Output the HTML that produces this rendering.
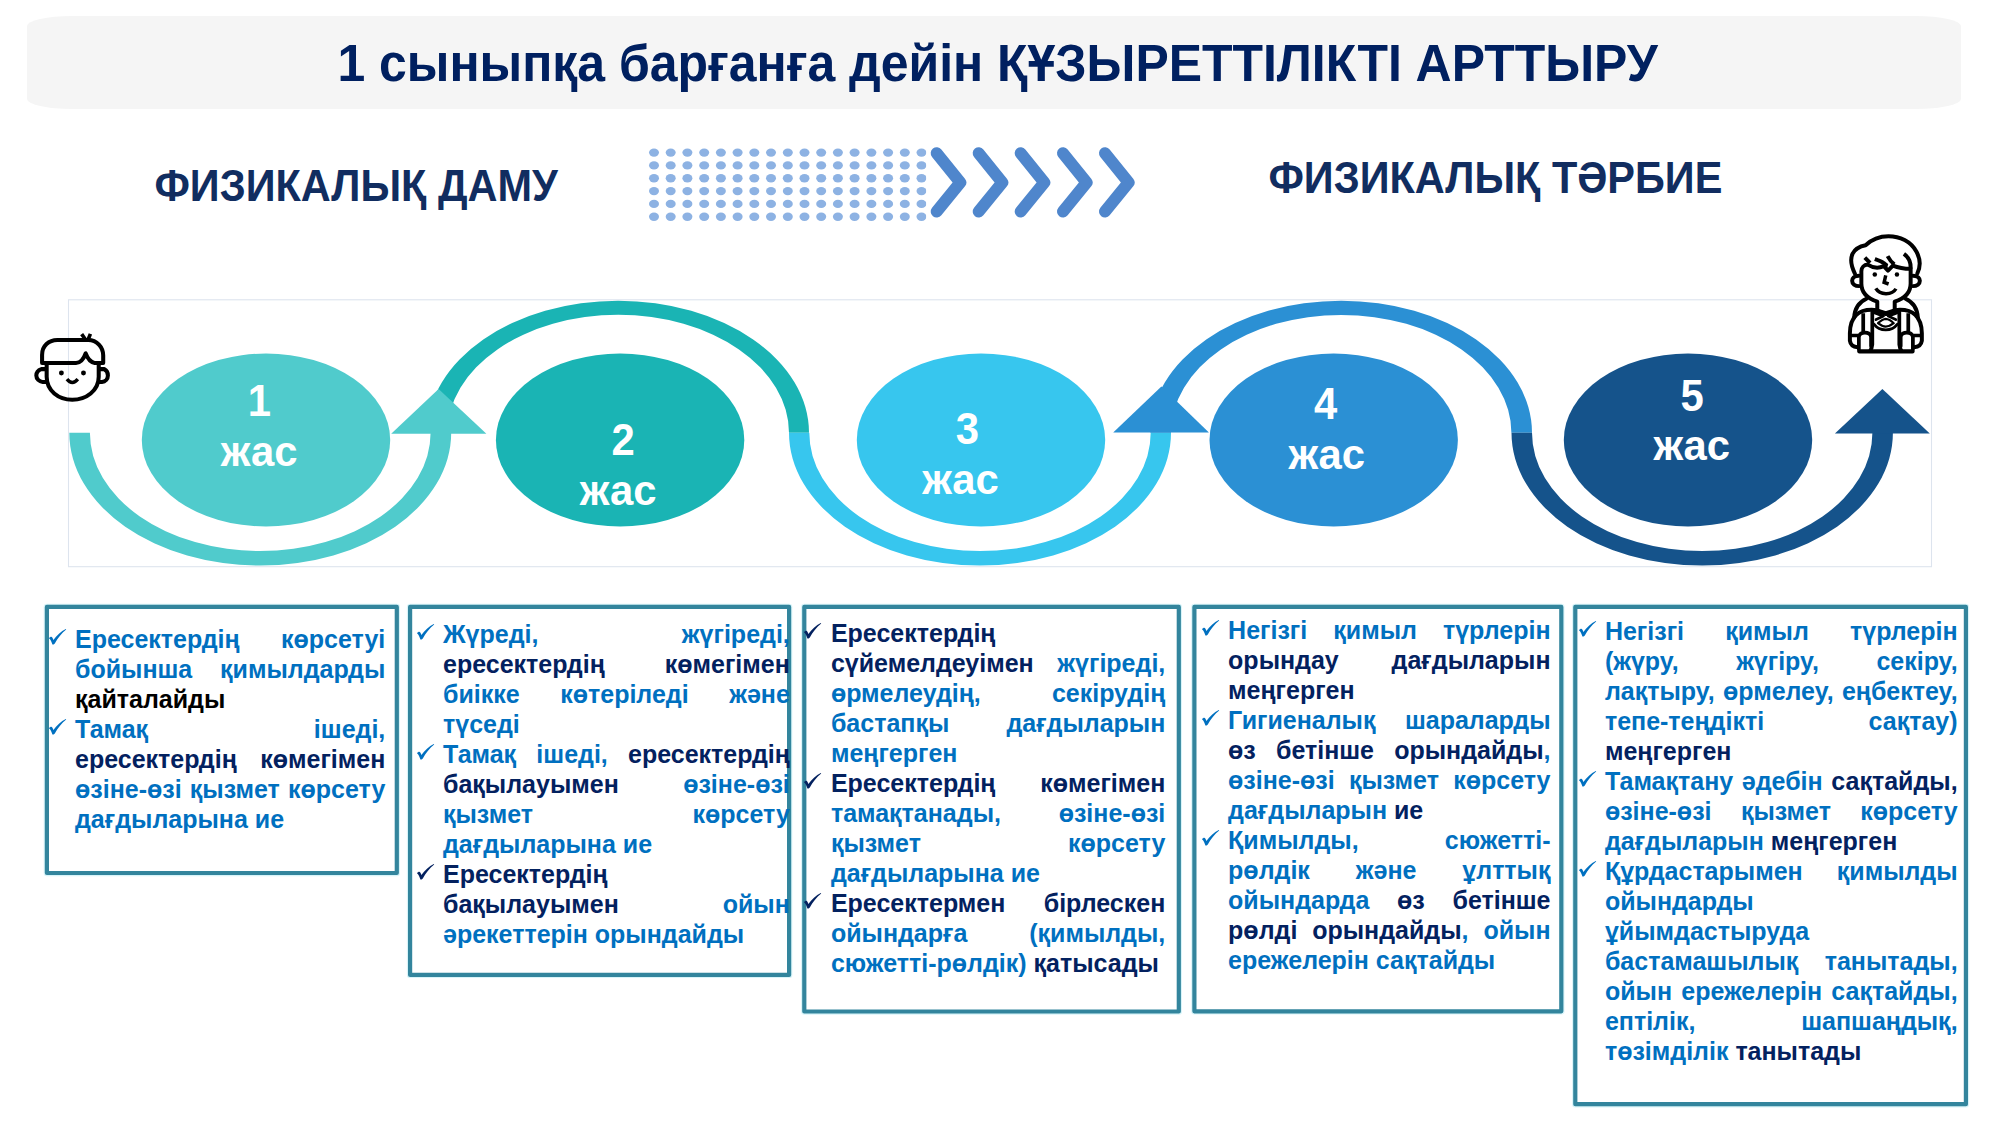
<!DOCTYPE html>
<html><head><meta charset="utf-8"><title>slide</title>
<style>
html,body{margin:0;padding:0;background:#fff;}
body{width:2000px;height:1125px;position:relative;overflow:hidden;font-family:"Liberation Sans",sans-serif;font-weight:bold;}
.banner{position:absolute;left:27px;top:16px;width:1934px;height:93px;background:#F5F5F5;border-radius:45px / 10px;}
.title{position:absolute;left:-2.4px;top:34.0px;width:2000px;text-align:center;font-size:49.92px;line-height:60px;color:#002060;white-space:nowrap;transform:scaleY(1.035);transform-origin:50% 46px;}
.h2{position:absolute;font-size:41.5px;line-height:50px;color:#112D60;white-space:nowrap;transform:scaleY(1.07);transform-origin:0 39px;}
.bx{position:absolute;box-sizing:border-box;border:4.2px solid #33859D;background:#fff;border-radius:1.5px;box-shadow:0 0 2px rgba(120,215,235,.55);}
.ln{position:absolute;height:30px;line-height:30px;font-size:25px;white-space:nowrap;}
.ck{position:absolute;}
.el.dg{transform:scaleY(1.04);transform-origin:0 40px;}
.el{position:absolute;height:50px;line-height:50px;font-size:41.8px;color:#fff;white-space:nowrap;}
svg.dg{position:absolute;left:0;top:0;}
</style></head><body>
<div class="banner"></div>
<div class="title">1 сыныпқа барғанға дейін ҚҰЗЫРЕТТІЛІКТІ АРТТЫРУ</div>
<div class="h2" style="left:154.4px;top:162.4px">ФИЗИКАЛЫҚ ДАМУ</div>
<div class="h2" style="left:1268.4px;top:154.4px">ФИЗИКАЛЫҚ ТӘРБИЕ</div>
<svg class="dg" width="2000" height="1125" viewBox="0 0 2000 1125">
<rect x="68.5" y="299.8" width="1863" height="266.9" fill="none" stroke="#DDE4EE" stroke-width="1.1"/>
<path d="M427.4 432.8 A190.8 132.0 0 0 1 809.0 432.8 L789.0 432.8 A170.8 118.0 0 0 0 447.4 432.8 Z" fill="#1AB4B4"/>
<path d="M1150.4 432.8 A190.8 132.0 0 0 1 1532.0 432.8 L1511.4 432.8 A170.2 118.0 0 0 0 1171.0 432.8 Z" fill="#2B90D4"/>
<path d="M69.3 432.8 A190.9 132.7 0 0 0 451.2 432.8 L430.6 432.8 A170.3 118.3 0 0 1 89.9 432.8 Z" fill="#50CBCC"/>
<path d="M789.0 432.8 A191.0 132.7 0 0 0 1171.0 432.8 L1150.7 432.8 A170.7 118.3 0 0 1 809.3 432.8 Z" fill="#37C6EE"/>
<path d="M1511.5 432.8 A190.7 132.7 0 0 0 1892.9 432.8 L1872.4 432.8 A170.2 118.3 0 0 1 1532.0 432.8 Z" fill="#15538B"/>
<polygon points="391.2,433.7 486.4,433.7 438.6,389.1" fill="#50CBCC"/>
<polygon points="1113.2,432.6 1208.9,432.6 1161.4,386.6" fill="#2B90D4"/>
<polygon points="1834.9,433.6 1929.8,433.6 1882.4,388.9" fill="#15538B"/>
<ellipse cx="266" cy="440" rx="124.2" ry="86.5" fill="#50CBCC"/>
<ellipse cx="620.1" cy="440" rx="124.2" ry="86.5" fill="#1AB4B4"/>
<ellipse cx="981" cy="440" rx="124.2" ry="86.5" fill="#37C6EE"/>
<ellipse cx="1333.7" cy="440" rx="124.2" ry="86.5" fill="#2B90D4"/>
<ellipse cx="1688" cy="440" rx="124.2" ry="86.5" fill="#15538B"/>
<clipPath id="dc"><rect x="640" y="140" width="286.2" height="90"/></clipPath><g fill="#8DB2E3" clip-path="url(#dc)"><ellipse cx="654.0" cy="152.6" rx="5" ry="4.2"/><ellipse cx="670.7" cy="152.6" rx="5" ry="4.2"/><ellipse cx="687.4" cy="152.6" rx="5" ry="4.2"/><ellipse cx="704.2" cy="152.6" rx="5" ry="4.2"/><ellipse cx="720.9" cy="152.6" rx="5" ry="4.2"/><ellipse cx="737.6" cy="152.6" rx="5" ry="4.2"/><ellipse cx="754.3" cy="152.6" rx="5" ry="4.2"/><ellipse cx="771.0" cy="152.6" rx="5" ry="4.2"/><ellipse cx="787.8" cy="152.6" rx="5" ry="4.2"/><ellipse cx="804.5" cy="152.6" rx="5" ry="4.2"/><ellipse cx="821.2" cy="152.6" rx="5" ry="4.2"/><ellipse cx="837.9" cy="152.6" rx="5" ry="4.2"/><ellipse cx="854.6" cy="152.6" rx="5" ry="4.2"/><ellipse cx="871.4" cy="152.6" rx="5" ry="4.2"/><ellipse cx="888.1" cy="152.6" rx="5" ry="4.2"/><ellipse cx="904.8" cy="152.6" rx="5" ry="4.2"/><ellipse cx="921.5" cy="152.6" rx="5" ry="4.2"/><ellipse cx="654.0" cy="165.4" rx="5" ry="4.2"/><ellipse cx="670.7" cy="165.4" rx="5" ry="4.2"/><ellipse cx="687.4" cy="165.4" rx="5" ry="4.2"/><ellipse cx="704.2" cy="165.4" rx="5" ry="4.2"/><ellipse cx="720.9" cy="165.4" rx="5" ry="4.2"/><ellipse cx="737.6" cy="165.4" rx="5" ry="4.2"/><ellipse cx="754.3" cy="165.4" rx="5" ry="4.2"/><ellipse cx="771.0" cy="165.4" rx="5" ry="4.2"/><ellipse cx="787.8" cy="165.4" rx="5" ry="4.2"/><ellipse cx="804.5" cy="165.4" rx="5" ry="4.2"/><ellipse cx="821.2" cy="165.4" rx="5" ry="4.2"/><ellipse cx="837.9" cy="165.4" rx="5" ry="4.2"/><ellipse cx="854.6" cy="165.4" rx="5" ry="4.2"/><ellipse cx="871.4" cy="165.4" rx="5" ry="4.2"/><ellipse cx="888.1" cy="165.4" rx="5" ry="4.2"/><ellipse cx="904.8" cy="165.4" rx="5" ry="4.2"/><ellipse cx="921.5" cy="165.4" rx="5" ry="4.2"/><ellipse cx="654.0" cy="178.2" rx="5" ry="4.2"/><ellipse cx="670.7" cy="178.2" rx="5" ry="4.2"/><ellipse cx="687.4" cy="178.2" rx="5" ry="4.2"/><ellipse cx="704.2" cy="178.2" rx="5" ry="4.2"/><ellipse cx="720.9" cy="178.2" rx="5" ry="4.2"/><ellipse cx="737.6" cy="178.2" rx="5" ry="4.2"/><ellipse cx="754.3" cy="178.2" rx="5" ry="4.2"/><ellipse cx="771.0" cy="178.2" rx="5" ry="4.2"/><ellipse cx="787.8" cy="178.2" rx="5" ry="4.2"/><ellipse cx="804.5" cy="178.2" rx="5" ry="4.2"/><ellipse cx="821.2" cy="178.2" rx="5" ry="4.2"/><ellipse cx="837.9" cy="178.2" rx="5" ry="4.2"/><ellipse cx="854.6" cy="178.2" rx="5" ry="4.2"/><ellipse cx="871.4" cy="178.2" rx="5" ry="4.2"/><ellipse cx="888.1" cy="178.2" rx="5" ry="4.2"/><ellipse cx="904.8" cy="178.2" rx="5" ry="4.2"/><ellipse cx="921.5" cy="178.2" rx="5" ry="4.2"/><ellipse cx="654.0" cy="191.1" rx="5" ry="4.2"/><ellipse cx="670.7" cy="191.1" rx="5" ry="4.2"/><ellipse cx="687.4" cy="191.1" rx="5" ry="4.2"/><ellipse cx="704.2" cy="191.1" rx="5" ry="4.2"/><ellipse cx="720.9" cy="191.1" rx="5" ry="4.2"/><ellipse cx="737.6" cy="191.1" rx="5" ry="4.2"/><ellipse cx="754.3" cy="191.1" rx="5" ry="4.2"/><ellipse cx="771.0" cy="191.1" rx="5" ry="4.2"/><ellipse cx="787.8" cy="191.1" rx="5" ry="4.2"/><ellipse cx="804.5" cy="191.1" rx="5" ry="4.2"/><ellipse cx="821.2" cy="191.1" rx="5" ry="4.2"/><ellipse cx="837.9" cy="191.1" rx="5" ry="4.2"/><ellipse cx="854.6" cy="191.1" rx="5" ry="4.2"/><ellipse cx="871.4" cy="191.1" rx="5" ry="4.2"/><ellipse cx="888.1" cy="191.1" rx="5" ry="4.2"/><ellipse cx="904.8" cy="191.1" rx="5" ry="4.2"/><ellipse cx="921.5" cy="191.1" rx="5" ry="4.2"/><ellipse cx="654.0" cy="203.9" rx="5" ry="4.2"/><ellipse cx="670.7" cy="203.9" rx="5" ry="4.2"/><ellipse cx="687.4" cy="203.9" rx="5" ry="4.2"/><ellipse cx="704.2" cy="203.9" rx="5" ry="4.2"/><ellipse cx="720.9" cy="203.9" rx="5" ry="4.2"/><ellipse cx="737.6" cy="203.9" rx="5" ry="4.2"/><ellipse cx="754.3" cy="203.9" rx="5" ry="4.2"/><ellipse cx="771.0" cy="203.9" rx="5" ry="4.2"/><ellipse cx="787.8" cy="203.9" rx="5" ry="4.2"/><ellipse cx="804.5" cy="203.9" rx="5" ry="4.2"/><ellipse cx="821.2" cy="203.9" rx="5" ry="4.2"/><ellipse cx="837.9" cy="203.9" rx="5" ry="4.2"/><ellipse cx="854.6" cy="203.9" rx="5" ry="4.2"/><ellipse cx="871.4" cy="203.9" rx="5" ry="4.2"/><ellipse cx="888.1" cy="203.9" rx="5" ry="4.2"/><ellipse cx="904.8" cy="203.9" rx="5" ry="4.2"/><ellipse cx="921.5" cy="203.9" rx="5" ry="4.2"/><ellipse cx="654.0" cy="216.7" rx="5" ry="4.2"/><ellipse cx="670.7" cy="216.7" rx="5" ry="4.2"/><ellipse cx="687.4" cy="216.7" rx="5" ry="4.2"/><ellipse cx="704.2" cy="216.7" rx="5" ry="4.2"/><ellipse cx="720.9" cy="216.7" rx="5" ry="4.2"/><ellipse cx="737.6" cy="216.7" rx="5" ry="4.2"/><ellipse cx="754.3" cy="216.7" rx="5" ry="4.2"/><ellipse cx="771.0" cy="216.7" rx="5" ry="4.2"/><ellipse cx="787.8" cy="216.7" rx="5" ry="4.2"/><ellipse cx="804.5" cy="216.7" rx="5" ry="4.2"/><ellipse cx="821.2" cy="216.7" rx="5" ry="4.2"/><ellipse cx="837.9" cy="216.7" rx="5" ry="4.2"/><ellipse cx="854.6" cy="216.7" rx="5" ry="4.2"/><ellipse cx="871.4" cy="216.7" rx="5" ry="4.2"/><ellipse cx="888.1" cy="216.7" rx="5" ry="4.2"/><ellipse cx="904.8" cy="216.7" rx="5" ry="4.2"/><ellipse cx="921.5" cy="216.7" rx="5" ry="4.2"/></g>
<g fill="none" stroke="#4F86CC" stroke-width="12" stroke-linecap="round" stroke-linejoin="round"><path d="M936.7 153.2 L960.3 182.4 L936.7 211.6"/><path d="M978.7 153.2 L1002.3 182.4 L978.7 211.6"/><path d="M1020.7 153.2 L1044.3 182.4 L1020.7 211.6"/><path d="M1063.0 153.2 L1086.6 182.4 L1063.0 211.6"/><path d="M1105.0 153.2 L1128.6 182.4 L1105.0 211.6"/></g>
<g transform="translate(20,300) scale(0.106667)" fill="none" stroke="#000" stroke-width="38" stroke-linecap="round" stroke-linejoin="round">
<path d="M207 590 L207 515 C207 430 270 375 350 375 L640 375 C720 375 780 440 780 520 L780 590 L700 590 C655 585 632 545 615 500 C598 548 575 590 525 590 Z"/>
<path d="M578 320 L612 368 M660 318 L640 368" stroke-width="34" stroke-linecap="butt"/>
<path d="M250 600 L250 720 C250 850 360 935 490 935 C620 935 738 850 738 720 L738 600"/>
<path d="M238 648 L200 648 C165 660 153 690 153 708 C153 740 180 766 212 768 L245 768"/>
<path d="M752 648 L790 648 C818 662 824 690 824 708 C824 740 800 766 768 768 L745 768"/>
<path d="M440 742 Q490 805 542 742" stroke-width="32" stroke-linecap="butt"/>
<circle cx="388" cy="685" r="23" fill="#000" stroke="none"/>
<circle cx="595" cy="685" r="23" fill="#000" stroke="none"/>
</g>
<g transform="translate(1825,225) scale(0.124481)" fill="none" stroke="#000" stroke-width="32" stroke-linecap="round" stroke-linejoin="round">
<path d="M240 390 C215 340 198 280 222 230 C240 195 280 172 326 163 C370 120 440 90 510 90 C600 90 690 130 735 215 C770 280 768 335 742 388"/>
<path d="M292 470 L292 372 C292 340 315 320 343 318 C385 345 430 350 472 330 L506 366 L545 326 C585 342 620 352 688 352 L688 470 C688 540 640 590 560 615 L560 690 L490 715 L420 690 L420 615 C340 590 292 540 292 470 Z"/>
<path d="M320 262 L362 304 M400 274 C430 285 455 294 472 306 C484 316 496 326 504 328 M503 250 C515 272 527 295 557 317 M634 232 C676 262 690 305 688 350" stroke-linecap="butt"/>
<path d="M272 407 C232 407 218 430 218 448 C218 472 240 491 275 491"/>
<path d="M706 407 C748 407 762 430 762 448 C762 472 740 491 705 491"/>
<path d="M488 404 L475 461 L511 474" stroke-width="28" stroke-linecap="butt" stroke-linejoin="miter"/>
<path d="M408 510 C440 565 540 565 570 512" stroke-width="28" stroke-linecap="butt"/>
<circle cx="400" cy="398" r="18" fill="#000" stroke="none"/>
<circle cx="578" cy="398" r="18" fill="#000" stroke="none"/>
<path d="M333 592 C275 618 238 670 234 745"/>
<path d="M647 592 C705 618 742 670 746 745"/>
<path d="M417 684 C340 676 285 690 252 722 C212 760 200 815 200 870 L200 930 C205 965 232 980 262 982"/>
<path d="M560 684 C637 676 692 690 725 722 C765 760 778 815 778 870 L778 930 C773 965 746 980 716 982"/>
<path d="M417 684 L488 706 L560 684" stroke-width="26"/>
<path d="M276 1016 L703 1016" stroke-width="34"/>
<path d="M307 708 L307 858 M669 708 L669 858" stroke-width="30" stroke-linecap="butt"/>
<path d="M380 700 L380 960 C378 985 372 1000 362 1010 M597 700 L597 960 C599 985 605 1000 615 1010" stroke-width="30"/>
<path d="M272 1000 L272 900 C276 852 366 852 370 900 L370 975" stroke-width="30"/>
<path d="M706 1000 L706 900 C702 852 612 852 608 900 L608 975" stroke-width="30"/>
<path d="M203 888 L266 888 M712 888 L776 888" stroke-width="28" stroke-linecap="butt"/>
<path d="M400 706 L470 732 L410 760 M578 706 L508 732 L568 760" stroke-width="22"/>
<path d="M426 789 C455 764 475 756 488 755 C501 756 525 764 552 789 C525 810 505 816 488 816 C470 816 452 810 426 789 Z" stroke-width="18"/>
<path d="M393 796 C420 832 455 842 488 842 C520 842 555 832 582 796" stroke-width="22"/>
</g>
<rect x="46.90" y="606.90" width="349.90" height="266.10" stroke-linejoin="round" fill="none" stroke="#A8E6F2" stroke-opacity=".45" stroke-width="6.4"/>
<rect x="46.90" y="606.90" width="349.90" height="266.10" stroke-linejoin="round" fill="#fff" stroke="#33859D" stroke-width="4.2"/>
<rect x="410.10" y="606.90" width="379.00" height="368.00" stroke-linejoin="round" fill="none" stroke="#A8E6F2" stroke-opacity=".45" stroke-width="6.4"/>
<rect x="410.10" y="606.90" width="379.00" height="368.00" stroke-linejoin="round" fill="#fff" stroke="#33859D" stroke-width="4.2"/>
<rect x="804.30" y="606.90" width="374.50" height="404.60" stroke-linejoin="round" fill="none" stroke="#A8E6F2" stroke-opacity=".45" stroke-width="6.4"/>
<rect x="804.30" y="606.90" width="374.50" height="404.60" stroke-linejoin="round" fill="#fff" stroke="#33859D" stroke-width="4.2"/>
<rect x="1194.40" y="606.90" width="366.90" height="404.40" stroke-linejoin="round" fill="none" stroke="#A8E6F2" stroke-opacity=".45" stroke-width="6.4"/>
<rect x="1194.40" y="606.90" width="366.90" height="404.40" stroke-linejoin="round" fill="#fff" stroke="#33859D" stroke-width="4.2"/>
<rect x="1575.30" y="606.90" width="390.60" height="497.30" stroke-linejoin="round" fill="none" stroke="#A8E6F2" stroke-opacity=".45" stroke-width="6.4"/>
<rect x="1575.30" y="606.90" width="390.60" height="497.30" stroke-linejoin="round" fill="#fff" stroke="#33859D" stroke-width="4.2"/>
</svg>
<div class="el dg" id="lab0" style="left:247.72px;top:376.90px">1</div>
<div class="el" id="lab1" style="left:220.80px;top:426.90px">жас</div>
<div class="el dg" id="lab2" style="left:611.38px;top:416.28px">2</div>
<div class="el" id="lab3" style="left:579.80px;top:465.90px">жас</div>
<div class="el dg" id="lab4" style="left:955.66px;top:405.02px">3</div>
<div class="el" id="lab5" style="left:922.18px;top:455.10px">жас</div>
<div class="el dg" id="lab6" style="left:1313.92px;top:379.52px">4</div>
<div class="el" id="lab7" style="left:1288.44px;top:430.10px">жас</div>
<div class="el dg" id="lab8" style="left:1680.52px;top:372.28px">5</div>
<div class="el" id="lab9" style="left:1653.44px;top:421.14px">жас</div>
<div class="ln" style="left:75.0px;top:623.5px;width:310.3px;word-spacing:34.550px"><span style="color:#0070C0">Ересектердің көрсетуі</span></div>
<svg class="ck" style="left:49.2px;top:628.9px" width="18" height="17" viewBox="0 0 18 17"><path d="M0 9.2 C0.8 8.4 1.4 7.8 2.2 7.8 C3.2 7.8 3.8 9.4 4.4 11 C7.6 6.4 12 2.4 16.8 0 L17.2 0.5 C12.4 4.4 8.8 9 5.8 14.4 C5 15.4 4.4 15.6 3.4 15.6 C2.8 13.4 1.8 10.6 0 9.2 Z" fill="#0070C0"/></svg>
<div class="ln" style="left:75.0px;top:653.5px;width:310.3px;word-spacing:20.831px"><span style="color:#0070C0">бойынша қимылдарды</span></div>
<div class="ln" style="left:75.0px;top:683.5px;width:310.3px"><span style="color:#000000">қайталайды</span></div>
<div class="ln" style="left:75.0px;top:713.5px;width:310.3px;word-spacing:158.769px"><span style="color:#0070C0">Тамақ ішеді,</span></div>
<svg class="ck" style="left:49.2px;top:718.9px" width="18" height="17" viewBox="0 0 18 17"><path d="M0 9.2 C0.8 8.4 1.4 7.8 2.2 7.8 C3.2 7.8 3.8 9.4 4.4 11 C7.6 6.4 12 2.4 16.8 0 L17.2 0.5 C12.4 4.4 8.8 9 5.8 14.4 C5 15.4 4.4 15.6 3.4 15.6 C2.8 13.4 1.8 10.6 0 9.2 Z" fill="#0070C0"/></svg>
<div class="ln" style="left:75.0px;top:743.5px;width:310.3px;word-spacing:16.534px"><span style="color:#03215F">ересектердің көмегімен</span></div>
<div class="ln" style="left:75.0px;top:773.5px;width:310.3px;word-spacing:1.252px"><span style="color:#0070C0">өзіне-өзі қызмет көрсету</span></div>
<div class="ln" style="left:75.0px;top:803.5px;width:310.3px"><span style="color:#0070C0">дағдыларына ие</span></div>
<div class="ln" style="left:443.0px;top:618.6px;width:346.8px;word-spacing:136.487px"><span style="color:#0070C0">Жүреді, жүгіреді,</span></div>
<svg class="ck" style="left:417.2px;top:624.0px" width="18" height="17" viewBox="0 0 18 17"><path d="M0 9.2 C0.8 8.4 1.4 7.8 2.2 7.8 C3.2 7.8 3.8 9.4 4.4 11 C7.6 6.4 12 2.4 16.8 0 L17.2 0.5 C12.4 4.4 8.8 9 5.8 14.4 C5 15.4 4.4 15.6 3.4 15.6 C2.8 13.4 1.8 10.6 0 9.2 Z" fill="#0070C0"/></svg>
<div class="ln" style="left:443.0px;top:648.6px;width:346.8px;word-spacing:53.034px"><span style="color:#03215F">ересектердің көмегімен</span></div>
<div class="ln" style="left:443.0px;top:678.6px;width:346.8px;word-spacing:33.580px"><span style="color:#0070C0">биікке көтеріледі және</span></div>
<div class="ln" style="left:443.0px;top:708.6px;width:346.8px"><span style="color:#0070C0">түседі</span></div>
<div class="ln" style="left:443.0px;top:738.6px;width:346.8px;word-spacing:13.267px"><span style="color:#0070C0">Тамақ ішеді, </span><span style="color:#03215F">ересектердің</span></div>
<svg class="ck" style="left:417.2px;top:744.0px" width="18" height="17" viewBox="0 0 18 17"><path d="M0 9.2 C0.8 8.4 1.4 7.8 2.2 7.8 C3.2 7.8 3.8 9.4 4.4 11 C7.6 6.4 12 2.4 16.8 0 L17.2 0.5 C12.4 4.4 8.8 9 5.8 14.4 C5 15.4 4.4 15.6 3.4 15.6 C2.8 13.4 1.8 10.6 0 9.2 Z" fill="#0070C0"/></svg>
<div class="ln" style="left:443.0px;top:768.6px;width:346.8px;word-spacing:57.472px"><span style="color:#03215F">бақылауымен </span><span style="color:#0070C0">өзіне-өзі</span></div>
<div class="ln" style="left:443.0px;top:798.6px;width:346.8px;word-spacing:152.566px"><span style="color:#0070C0">қызмет көрсету</span></div>
<div class="ln" style="left:443.0px;top:828.6px;width:346.8px"><span style="color:#0070C0">дағдыларына ие</span></div>
<div class="ln" style="left:443.0px;top:858.6px;width:346.8px"><span style="color:#03215F">Ересектердің</span></div>
<svg class="ck" style="left:417.2px;top:864.0px" width="18" height="17" viewBox="0 0 18 17"><path d="M0 9.2 C0.8 8.4 1.4 7.8 2.2 7.8 C3.2 7.8 3.8 9.4 4.4 11 C7.6 6.4 12 2.4 16.8 0 L17.2 0.5 C12.4 4.4 8.8 9 5.8 14.4 C5 15.4 4.4 15.6 3.4 15.6 C2.8 13.4 1.8 10.6 0 9.2 Z" fill="#03215F"/></svg>
<div class="ln" style="left:443.0px;top:888.6px;width:346.8px;word-spacing:97.003px"><span style="color:#03215F">бақылауымен </span><span style="color:#0070C0">ойын</span></div>
<div class="ln" style="left:443.0px;top:918.6px;width:346.8px"><span style="color:#0070C0">әрекеттерін орындайды</span></div>
<div class="ln" style="left:830.9px;top:617.8px;width:334.4px"><span style="color:#03215F">Ересектердің</span></div>
<svg class="ck" style="left:804.0px;top:623.2px" width="18" height="17" viewBox="0 0 18 17"><path d="M0 9.2 C0.8 8.4 1.4 7.8 2.2 7.8 C3.2 7.8 3.8 9.4 4.4 11 C7.6 6.4 12 2.4 16.8 0 L17.2 0.5 C12.4 4.4 8.8 9 5.8 14.4 C5 15.4 4.4 15.6 3.4 15.6 C2.8 13.4 1.8 10.6 0 9.2 Z" fill="#03215F"/></svg>
<div class="ln" style="left:830.9px;top:647.8px;width:334.4px;word-spacing:16.697px"><span style="color:#03215F">сүйемелдеуімен </span><span style="color:#0070C0">жүгіреді,</span></div>
<div class="ln" style="left:830.9px;top:677.8px;width:334.4px;word-spacing:64.166px"><span style="color:#0070C0">өрмелеудің, секірудің</span></div>
<div class="ln" style="left:830.9px;top:707.8px;width:334.4px;word-spacing:50.181px"><span style="color:#0070C0">бастапқы дағдыларын</span></div>
<div class="ln" style="left:830.9px;top:737.8px;width:334.4px"><span style="color:#0070C0">меңгерген</span></div>
<div class="ln" style="left:830.9px;top:767.8px;width:334.4px;word-spacing:37.853px"><span style="color:#03215F">Ересектердің көмегімен</span></div>
<svg class="ck" style="left:804.0px;top:773.2px" width="18" height="17" viewBox="0 0 18 17"><path d="M0 9.2 C0.8 8.4 1.4 7.8 2.2 7.8 C3.2 7.8 3.8 9.4 4.4 11 C7.6 6.4 12 2.4 16.8 0 L17.2 0.5 C12.4 4.4 8.8 9 5.8 14.4 C5 15.4 4.4 15.6 3.4 15.6 C2.8 13.4 1.8 10.6 0 9.2 Z" fill="#03215F"/></svg>
<div class="ln" style="left:830.9px;top:797.8px;width:334.4px;word-spacing:50.791px"><span style="color:#0070C0">тамақтанады, өзіне-өзі</span></div>
<div class="ln" style="left:830.9px;top:827.8px;width:334.4px;word-spacing:140.166px"><span style="color:#0070C0">қызмет көрсету</span></div>
<div class="ln" style="left:830.9px;top:857.8px;width:334.4px"><span style="color:#0070C0">дағдыларына ие</span></div>
<div class="ln" style="left:830.9px;top:887.8px;width:334.4px;word-spacing:31.431px"><span style="color:#03215F">Ересектермен бірлескен</span></div>
<svg class="ck" style="left:804.0px;top:893.2px" width="18" height="17" viewBox="0 0 18 17"><path d="M0 9.2 C0.8 8.4 1.4 7.8 2.2 7.8 C3.2 7.8 3.8 9.4 4.4 11 C7.6 6.4 12 2.4 16.8 0 L17.2 0.5 C12.4 4.4 8.8 9 5.8 14.4 C5 15.4 4.4 15.6 3.4 15.6 C2.8 13.4 1.8 10.6 0 9.2 Z" fill="#03215F"/></svg>
<div class="ln" style="left:830.9px;top:917.8px;width:334.4px;word-spacing:54.900px"><span style="color:#0070C0">ойындарға (қимылды,</span></div>
<div class="ln" style="left:830.9px;top:947.8px;width:334.4px"><span style="color:#0070C0">сюжетті-рөлдік) </span><span style="color:#03215F">қатысады</span></div>
<div class="ln" style="left:1228.1px;top:614.6px;width:322.4px;word-spacing:19.114px"><span style="color:#0070C0">Негізгі қимыл түрлерін</span></div>
<svg class="ck" style="left:1202.3px;top:620.0px" width="18" height="17" viewBox="0 0 18 17"><path d="M0 9.2 C0.8 8.4 1.4 7.8 2.2 7.8 C3.2 7.8 3.8 9.4 4.4 11 C7.6 6.4 12 2.4 16.8 0 L17.2 0.5 C12.4 4.4 8.8 9 5.8 14.4 C5 15.4 4.4 15.6 3.4 15.6 C2.8 13.4 1.8 10.6 0 9.2 Z" fill="#0070C0"/></svg>
<div class="ln" style="left:1228.1px;top:644.6px;width:322.4px;word-spacing:45.869px"><span style="color:#03215F">орындау дағдыларын</span></div>
<div class="ln" style="left:1228.1px;top:674.6px;width:322.4px"><span style="color:#03215F">меңгерген</span></div>
<div class="ln" style="left:1228.1px;top:704.6px;width:322.4px;word-spacing:22.525px"><span style="color:#0070C0">Гигиеналық шараларды</span></div>
<svg class="ck" style="left:1202.3px;top:710.0px" width="18" height="17" viewBox="0 0 18 17"><path d="M0 9.2 C0.8 8.4 1.4 7.8 2.2 7.8 C3.2 7.8 3.8 9.4 4.4 11 C7.6 6.4 12 2.4 16.8 0 L17.2 0.5 C12.4 4.4 8.8 9 5.8 14.4 C5 15.4 4.4 15.6 3.4 15.6 C2.8 13.4 1.8 10.6 0 9.2 Z" fill="#0070C0"/></svg>
<div class="ln" style="left:1228.1px;top:734.6px;width:322.4px;word-spacing:13.223px"><span style="color:#03215F">өз бетінше орындайды</span><span style="color:#0070C0">,</span></div>
<div class="ln" style="left:1228.1px;top:764.6px;width:322.4px;word-spacing:7.302px"><span style="color:#0070C0">өзіне-өзі қызмет көрсету</span></div>
<div class="ln" style="left:1228.1px;top:794.6px;width:322.4px"><span style="color:#0070C0">дағдыларын </span><span style="color:#03215F">ие</span></div>
<div class="ln" style="left:1228.1px;top:824.6px;width:322.4px;word-spacing:79.275px"><span style="color:#0070C0">Қимылды, сюжетті-</span></div>
<svg class="ck" style="left:1202.3px;top:830.0px" width="18" height="17" viewBox="0 0 18 17"><path d="M0 9.2 C0.8 8.4 1.4 7.8 2.2 7.8 C3.2 7.8 3.8 9.4 4.4 11 C7.6 6.4 12 2.4 16.8 0 L17.2 0.5 C12.4 4.4 8.8 9 5.8 14.4 C5 15.4 4.4 15.6 3.4 15.6 C2.8 13.4 1.8 10.6 0 9.2 Z" fill="#0070C0"/></svg>
<div class="ln" style="left:1228.1px;top:854.6px;width:322.4px;word-spacing:38.989px"><span style="color:#0070C0">рөлдік және ұлттық</span></div>
<div class="ln" style="left:1228.1px;top:884.6px;width:322.4px;word-spacing:20.731px"><span style="color:#0070C0">ойындарда </span><span style="color:#03215F">өз бетінше</span></div>
<div class="ln" style="left:1228.1px;top:914.6px;width:322.4px;word-spacing:7.934px"><span style="color:#03215F">рөлді орындайды</span><span style="color:#0070C0">, ойын</span></div>
<div class="ln" style="left:1228.1px;top:944.6px;width:322.4px"><span style="color:#0070C0">ережелерін сақтайды</span></div>
<div class="ln" style="left:1604.9px;top:615.7px;width:352.7px;word-spacing:34.264px"><span style="color:#0070C0">Негізгі қимыл түрлерін</span></div>
<svg class="ck" style="left:1579.1px;top:621.1px" width="18" height="17" viewBox="0 0 18 17"><path d="M0 9.2 C0.8 8.4 1.4 7.8 2.2 7.8 C3.2 7.8 3.8 9.4 4.4 11 C7.6 6.4 12 2.4 16.8 0 L17.2 0.5 C12.4 4.4 8.8 9 5.8 14.4 C5 15.4 4.4 15.6 3.4 15.6 C2.8 13.4 1.8 10.6 0 9.2 Z" fill="#0070C0"/></svg>
<div class="ln" style="left:1604.9px;top:645.7px;width:352.7px;word-spacing:50.428px"><span style="color:#0070C0">(жүру, жүгіру, секіру,</span></div>
<div class="ln" style="left:1604.9px;top:675.7px;width:352.7px;word-spacing:1.319px"><span style="color:#0070C0">лақтыру, өрмелеу, еңбектеу,</span></div>
<div class="ln" style="left:1604.9px;top:705.7px;width:352.7px;word-spacing:97.497px"><span style="color:#0070C0">тепе-теңдікті сақтау)</span></div>
<div class="ln" style="left:1604.9px;top:735.7px;width:352.7px"><span style="color:#03215F">меңгерген</span></div>
<div class="ln" style="left:1604.9px;top:765.7px;width:352.7px;word-spacing:1.686px"><span style="color:#0070C0">Тамақтану әдебін </span><span style="color:#03215F">сақтайды,</span></div>
<svg class="ck" style="left:1579.1px;top:771.1px" width="18" height="17" viewBox="0 0 18 17"><path d="M0 9.2 C0.8 8.4 1.4 7.8 2.2 7.8 C3.2 7.8 3.8 9.4 4.4 11 C7.6 6.4 12 2.4 16.8 0 L17.2 0.5 C12.4 4.4 8.8 9 5.8 14.4 C5 15.4 4.4 15.6 3.4 15.6 C2.8 13.4 1.8 10.6 0 9.2 Z" fill="#0070C0"/></svg>
<div class="ln" style="left:1604.9px;top:795.7px;width:352.7px;word-spacing:22.452px"><span style="color:#0070C0">өзіне-өзі қызмет көрсету</span></div>
<div class="ln" style="left:1604.9px;top:825.7px;width:352.7px"><span style="color:#0070C0">дағдыларын </span><span style="color:#03215F">меңгерген</span></div>
<div class="ln" style="left:1604.9px;top:855.7px;width:352.7px;word-spacing:27.169px"><span style="color:#0070C0">Құрдастарымен қимылды</span></div>
<svg class="ck" style="left:1579.1px;top:861.1px" width="18" height="17" viewBox="0 0 18 17"><path d="M0 9.2 C0.8 8.4 1.4 7.8 2.2 7.8 C3.2 7.8 3.8 9.4 4.4 11 C7.6 6.4 12 2.4 16.8 0 L17.2 0.5 C12.4 4.4 8.8 9 5.8 14.4 C5 15.4 4.4 15.6 3.4 15.6 C2.8 13.4 1.8 10.6 0 9.2 Z" fill="#0070C0"/></svg>
<div class="ln" style="left:1604.9px;top:885.7px;width:352.7px"><span style="color:#0070C0">ойындарды</span></div>
<div class="ln" style="left:1604.9px;top:915.7px;width:352.7px"><span style="color:#0070C0">ұйымдастыруда</span></div>
<div class="ln" style="left:1604.9px;top:945.7px;width:352.7px;word-spacing:19.434px"><span style="color:#0070C0">бастамашылық танытады,</span></div>
<div class="ln" style="left:1604.9px;top:975.7px;width:352.7px;word-spacing:2.295px"><span style="color:#0070C0">ойын ережелерін сақтайды,</span></div>
<div class="ln" style="left:1604.9px;top:1005.7px;width:352.7px;word-spacing:98.903px"><span style="color:#0070C0">ептілік, шапшаңдық,</span></div>
<div class="ln" style="left:1604.9px;top:1035.7px;width:352.7px"><span style="color:#0070C0">төзімділік </span><span style="color:#03215F">танытады</span></div>
</body></html>
